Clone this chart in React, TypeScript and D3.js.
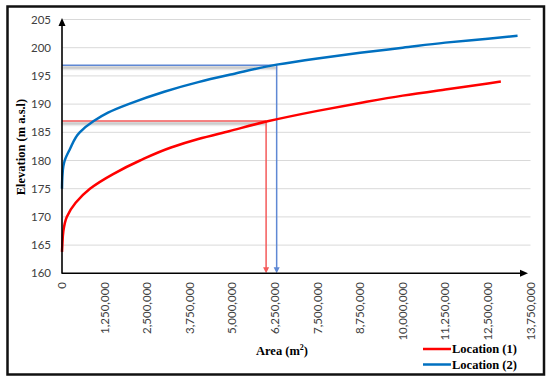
import * as d3 from "d3";
import { useEffect, useRef } from "react";

// Location (1) - red curve
const areaLoc1 = [0, 0.01e6, 0.04e6, 0.14e6, 0.4e6, 0.82e6, 1.5e6, 2.29e6, 3.2e6, 4.0e6, 4.9e6, 6.0e6, 7.5e6, 8.75e6, 10.0e6, 11.25e6, 12.5e6, 12.88e6];
const elevLoc1 = [163.8, 165, 167.5, 170, 172.5, 175, 177.6, 180, 182.3, 183.8, 185.2, 186.9, 188.8, 190.2, 191.5, 192.6, 193.65, 194.0];

// Location (2) - blue curve
const areaLoc2 = [0, 0.01e6, 0.04e6, 0.08e6, 0.23e6, 0.52e6, 0.93e6, 1.35e6, 1.95e6, 3.0e6, 4.0e6, 5.0e6, 6.3e6, 7.5e6, 8.75e6, 10.0e6, 11.25e6, 12.5e6, 13.37e6];
const elevLoc2 = [175, 177, 179, 180, 182, 185, 187, 188.5, 190, 192.2, 193.9, 195.3, 197, 198.1, 199.1, 200.0, 200.9, 201.6, 202.1];

// reading lines (area, elevation)
const refLoc1 = [5.99e6, 187];
const refLoc2 = [6.3e6, 196.9];

const xTicks = d3.range(0, 13.75e6 + 1, 1.25e6);
const yTicks = d3.range(160, 206, 5);
const seriesNames = ["Location (1)", "Location (2)"];
const seriesColors = ["#ff0000", "#0070c0"];
const refColors = ["#f45a5a", "#5f88d4"];

const App = () => {
    const svgRef = useRef(null);

    useEffect(() => {
        const width = 550;
        const height = 382;
        const svg = d3.select(svgRef.current).attr("width", width).attr("height", height);
        svg.selectAll("*").remove();

        const x = d3.scaleLinear().domain([0, 13.75e6]).range([62, 530.5]);
        const y = d3.scaleLinear().domain([160, 205]).range([273.3, 19.5]);

        // soft shadow under the horizontal reading lines
        const defs = svg.append("defs");
        defs.append("filter")
            .attr("id", "blur")
            .attr("filterUnits", "userSpaceOnUse")
            .attr("x", 0).attr("y", 0)
            .attr("width", width).attr("height", height)
            .append("feGaussianBlur")
            .attr("stdDeviation", 1.1);

        svg.append("rect").attr("width", width).attr("height", height).attr("fill", "#fff");

        // outer frame
        svg.append("rect")
            .attr("x", 7.5).attr("y", 6.5)
            .attr("width", 536.5).attr("height", 368)
            .attr("fill", "none")
            .attr("stroke", "#111")
            .attr("stroke-width", 2.5);

        // gridlines
        svg.append("g")
            .selectAll("line")
            .data(yTicks.slice(1))
            .join("line")
            .attr("x1", x(0)).attr("x2", x(13.75e6))
            .attr("y1", (d) => y(d)).attr("y2", (d) => y(d))
            .attr("stroke", "#d9d9d9")
            .attr("stroke-width", 1);

        // y tick labels
        svg.append("g")
            .selectAll("text")
            .data(yTicks)
            .join("text")
            .attr("x", 51)
            .attr("y", (d) => y(d))
            .attr("dy", "0.35em")
            .attr("text-anchor", "end")
            .attr("font-family", "Lato, 'Open Sans', sans-serif")
            .attr("font-size", 11.5)
            .attr("fill", "#404040")
            .text((d) => d);

        // x tick labels (rotated)
        svg.append("g")
            .selectAll("text")
            .data(xTicks)
            .join("text")
            .attr("transform", (d) => `translate(${x(d)},282) rotate(-90)`)
            .attr("dy", "0.35em")
            .attr("text-anchor", "end")
            .attr("font-family", "Lato, 'Open Sans', sans-serif")
            .attr("font-size", 11.5)
            .attr("fill", "#404040")
            .text((d) => d3.format(",")(d));

        // reference lines with arrows
        const refs = [refLoc1, refLoc2];
        refs.forEach((r, i) => {
            const g = svg.append("g");
            g.append("line")
                .attr("x1", x(0)).attr("x2", x(r[0]))
                .attr("y1", y(r[1]) + 2.5).attr("y2", y(r[1]) + 2.5)
                .attr("stroke", "#999")
                .attr("stroke-opacity", 0.7)
                .attr("stroke-width", 2.5)
                .attr("filter", "url(#blur)");
            g.append("line")
                .attr("x1", x(0)).attr("x2", x(r[0]))
                .attr("y1", y(r[1])).attr("y2", y(r[1]))
                .attr("stroke", refColors[i])
                .attr("stroke-width", 1.5);
            g.append("line")
                .attr("x1", x(r[0])).attr("x2", x(r[0]))
                .attr("y1", y(r[1])).attr("y2", y(160) - 4)
                .attr("stroke", refColors[i])
                .attr("stroke-width", 1.5);
            const ax = x(r[0]);
            const ay = y(160);
            g.append("path")
                .attr("d", `M${ax - 3},${ay - 6}L${ax + 3},${ay - 6}L${ax},${ay}Z`)
                .attr("fill", refColors[i]);
        });

        // curves (monotone in elevation, since they start near-vertical)
        const line = d3.line()
            .x((d) => x(d[0]))
            .y((d) => y(d[1]))
            .curve(d3.curveMonotoneY);
        const series = [
            areaLoc1.map((a, i) => [a, elevLoc1[i]]),
            areaLoc2.map((a, i) => [a, elevLoc2[i]]),
        ];
        series.forEach((s, i) => {
            svg.append("path")
                .datum(s)
                .attr("fill", "none")
                .attr("stroke", seriesColors[i])
                .attr("stroke-width", 2.5)
                .attr("d", line);
        });

        // axes with arrow heads
        const x0 = x(0);
        const y0 = y(160);
        svg.append("line")
            .attr("x1", x0).attr("x2", x0)
            .attr("y1", y0 + 0.5).attr("y2", 24)
            .attr("stroke", "#000").attr("stroke-width", 1.6);
        svg.append("path")
            .attr("d", `M${x0 - 3.5},${26}L${x0 + 3.5},${26}L${x0},${18}Z`)
            .attr("fill", "#000");
        svg.append("line")
            .attr("x1", x0).attr("x2", 522)
            .attr("y1", y0).attr("y2", y0)
            .attr("stroke", "#000").attr("stroke-width", 1.6);
        svg.append("path")
            .attr("d", `M${520},${y0 - 3.5}L${520},${y0 + 3.5}L${528},${y0}Z`)
            .attr("fill", "#000");

        // axis titles
        svg.append("text")
            .attr("transform", "translate(21,147) rotate(-90)")
            .attr("dy", "0.35em")
            .attr("text-anchor", "middle")
            .attr("font-family", "'Liberation Serif', 'Times New Roman', serif")
            .attr("font-weight", "bold")
            .attr("font-size", 12.5)
            .attr("fill", "#000")
            .text("Elevation (m a.s.l)");

        const xt = svg.append("text")
            .attr("x", 282)
            .attr("y", 355)
            .attr("text-anchor", "middle")
            .attr("font-family", "'Liberation Serif', 'Times New Roman', serif")
            .attr("font-weight", "bold")
            .attr("font-size", 12.5)
            .attr("fill", "#000");
        xt.append("tspan").text("Area (m");
        xt.append("tspan").attr("font-size", 8).attr("dy", -5).text("2");
        xt.append("tspan").attr("dy", 5).text(")");

        // legend
        const legend = svg.append("g");
        seriesNames.forEach((name, i) => {
            const ly = 349 + i * 15.5;
            legend.append("line")
                .attr("x1", 423).attr("x2", 451)
                .attr("y1", ly).attr("y2", ly)
                .attr("stroke", seriesColors[i])
                .attr("stroke-width", 2.5);
            legend.append("text")
                .attr("x", 452)
                .attr("y", ly)
                .attr("dy", "0.35em")
                .attr("font-family", "'Liberation Serif', 'Times New Roman', serif")
                .attr("font-weight", "bold")
                .attr("font-size", 12.5)
                .attr("fill", "#000")
                .text(name);
        });
    }, []);

    return <svg ref={svgRef} style={{ position: "absolute", left: 0, top: 0 }} />;
};

export default App;
